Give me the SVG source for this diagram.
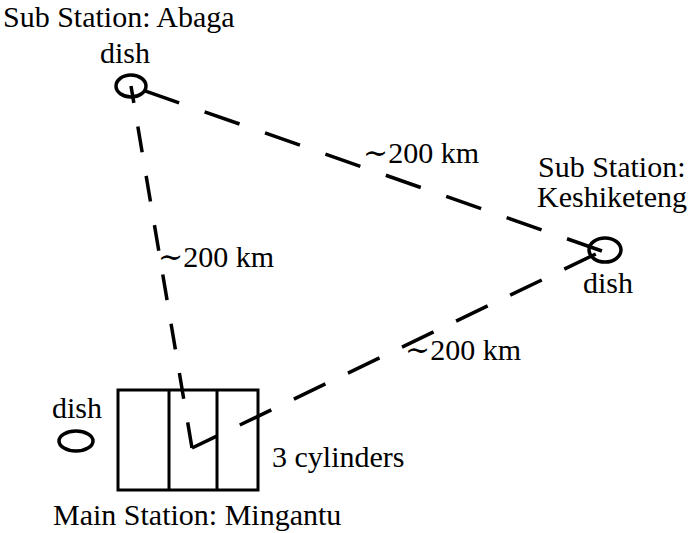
<svg xmlns="http://www.w3.org/2000/svg" width="700" height="533" viewBox="0 0 700 533">
<style>
text{font-family:"Liberation Serif","Times New Roman",serif;font-size:30px;fill:#000}
.sim{font-family:"DejaVu Serif","Liberation Serif",serif}
.link{fill:none;stroke:#000;stroke-width:3.5}
.dish{fill:none;stroke:#000;stroke-width:3.5}
.box{fill:none;stroke:#000;stroke-width:3}
</style>
<rect width="700" height="533" fill="#fff"/>
<g id="connectors">
<line class="link" x1="192" y1="448" x2="131" y2="86" stroke-dasharray="26 24"/>
<line class="link" x1="192" y1="448" x2="602" y2="251" stroke-dasharray="35 25" stroke-dashoffset="7"/>
<line class="link" x1="131" y1="86" x2="602" y2="251" stroke-dasharray="37 27" stroke-dashoffset="-14"/>
<text x="158" y="267"><tspan class="sim">∼</tspan>200 km</text>
<text x="363" y="163"><tspan class="sim">∼</tspan>200 km</text>
<text x="405" y="360"><tspan class="sim">∼</tspan>200 km</text>
</g>
<g id="abaga">
<text x="3" y="27">Sub Station: Abaga</text>
<text x="100" y="63">dish</text>
<ellipse class="dish" cx="131" cy="86" rx="15" ry="11"/>
</g>
<g id="keshiketeng">
<text x="538" y="177">Sub Station:</text>
<text x="537" y="207">Keshiketeng</text>
<text x="583" y="293">dish</text>
<ellipse class="dish" cx="605" cy="250" rx="16" ry="12"/>
</g>
<g id="mingantu">
<text x="52" y="418">dish</text>
<ellipse class="dish" cx="76" cy="441" rx="17" ry="10"/>
<rect class="box" x="118" y="390" width="140" height="100"/>
<line class="box" x1="169" y1="390" x2="169" y2="490"/>
<line class="box" x1="217" y1="390" x2="217" y2="490"/>
<text x="272" y="467">3 cylinders</text>
<text x="53" y="525">Main Station: Mingantu</text>
</g>
</svg>
